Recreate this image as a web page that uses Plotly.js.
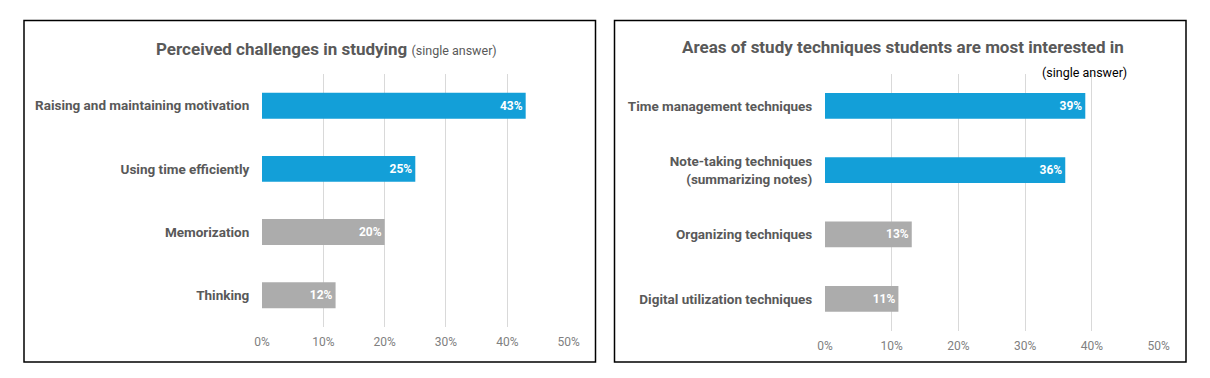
<!DOCTYPE html>
<html>
<head>
<meta charset="utf-8">
<script src="https://cdn.plot.ly/plotly-3.0.1.min.js"></script>
<style>html,body{margin:0;padding:0;background:#fff;}#chart{width:1210px;height:378px;}</style>
</head>
<body>
<div id="chart"></div>
<script>
const challengeCategories = ["Raising and maintaining motivation", "Using time efficiently", "Memorization", "Thinking"];
const challengeValues = [0.43, 0.25, 0.20, 0.12];
const interestCategories = ["Time management techniques", "Note-taking techniques<br>(summarizing notes)", "Organizing techniques", "Digital utilization techniques"];
const interestValues = [0.39, 0.36, 0.13, 0.11];
const xTickValues = [0, 0.1, 0.2, 0.3, 0.4, 0.5];
const xTickLabels = ["0%", "10%", "20%", "30%", "40%", "50%"];

const BLUE = "#139fd8";
const GRAY = "#acacac";
const FONT = "Roboto, sans-serif";
const W = 1210, H = 378;
const px = x => x / W;
const py = y => 1 - y / H;

function colors(n) { return Array.from({length: n}, (_, i) => i < 2 ? BLUE : GRAY); }

const traces = [
  {
    type: "bar", orientation: "h", x: challengeValues, y: challengeCategories,
    xaxis: "x", yaxis: "y", width: 0.41,
    marker: {color: colors(challengeValues.length)},
    texttemplate: "%{x:.0%}", textposition: "inside", insidetextanchor: "end",
    textfont: {color: "#ffffff", size: 12, family: FONT, weight: "bold"},
    hoverinfo: "skip", cliponaxis: false
  },
  {
    type: "bar", orientation: "h", x: interestValues, y: interestCategories,
    xaxis: "x2", yaxis: "y2", width: 0.4,
    marker: {color: colors(interestValues.length)},
    texttemplate: "%{x:.0%}", textposition: "inside", insidetextanchor: "end",
    textfont: {color: "#ffffff", size: 12, family: FONT, weight: "bold"},
    hoverinfo: "skip", cliponaxis: false
  }
];

const xaxisBase = {
  range: [0, 0.5], tickvals: xTickValues, ticktext: xTickLabels,
  showgrid: true, gridcolor: "#d9d9d9", gridwidth: 1, zeroline: false,
  showline: false, ticks: "outside", ticklen: 4, tickcolor: "rgba(0,0,0,0)",
  tickfont: {size: 12, color: "#808080", family: FONT}, fixedrange: true
};
const yaxisBase = {
  autorange: "reversed", showgrid: false, zeroline: false, showline: false,
  ticks: "outside", ticklen: 9, tickcolor: "rgba(0,0,0,0)",
  tickfont: {size: 13.5, color: "#595959", family: FONT, weight: "bold"}, fixedrange: true
};

const layout = {
  width: W, height: H, margin: {l: 0, r: 0, t: 0, b: 0},
  paper_bgcolor: "#ffffff", plot_bgcolor: "rgba(0,0,0,0)",
  showlegend: false, font: {family: FONT},
  xaxis: Object.assign({}, xaxisBase, {domain: [px(262), px(568.6)], anchor: "y"}),
  yaxis: Object.assign({}, yaxisBase, {domain: [py(326.8), py(74.1)], anchor: "x"}),
  xaxis2: Object.assign({}, xaxisBase, {domain: [px(825), px(1158.7)], anchor: "y2"}),
  yaxis2: Object.assign({}, yaxisBase, {domain: [py(331), py(73.6)], anchor: "x2"}),
  shapes: [
    {type: "rect", xref: "paper", yref: "paper", x0: px(24), x1: px(595.5), y0: py(362), y1: py(20.5), line: {color: "#000", width: 1.5}},
    {type: "rect", xref: "paper", yref: "paper", x0: px(614.5), x1: px(1186), y0: py(362), y1: py(20.5), line: {color: "#000", width: 1.5}}
  ],
  annotations: [
    {xref: "paper", yref: "paper", x: px(326), y: py(49), xanchor: "center", yanchor: "middle", showarrow: false,
     text: "<b>Perceived challenges in studying</b> <span style='font-size:12.5px'>(single answer)</span>",
     font: {size: 17, color: "#595959", family: FONT}},
    {xref: "paper", yref: "paper", x: px(903), y: py(47), xanchor: "center", yanchor: "middle", showarrow: false,
     text: "<b>Areas of study techniques students are most interested in</b>",
     font: {size: 17, color: "#595959", family: FONT}},
    {xref: "paper", yref: "paper", x: px(1084), y: py(72.5), xanchor: "center", yanchor: "middle", showarrow: false,
     text: "(single answer)", font: {size: 12.5, color: "#000000", family: FONT}}
  ]
};

Plotly.newPlot("chart", traces, layout, {displayModeBar: false, staticPlot: true});
</script>
</body>
</html>
